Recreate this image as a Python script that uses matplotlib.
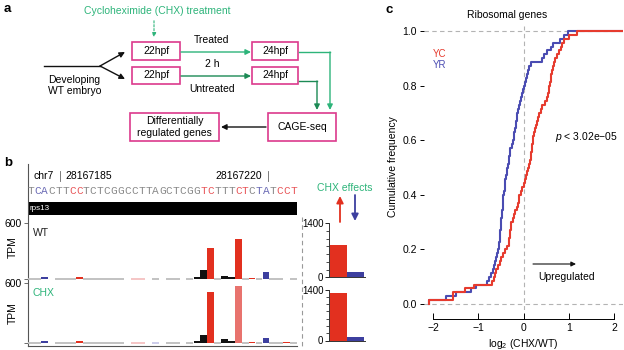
import matplotlib
matplotlib.use("Agg")
import matplotlib.pyplot as plt
from matplotlib.patches import Rectangle
from matplotlib.ticker import MultipleLocator

plt.rcParams['font.family'] = ['Liberation Sans', 'DejaVu Sans']
plt.rcParams['mathtext.fontset'] = 'custom'
plt.rcParams['mathtext.rm'] = 'Liberation Sans'
plt.rcParams['mathtext.it'] = 'Liberation Sans:italic'

# ---------------- data ----------------
seq = "TCACTTCCTCTCGGCCTTAGCTCGGTCTTTCTCTATCCT"
seq_cls = "gbbgggrr" + "g" * 17 + "rrgggrrgbbgrrr"

bar_pos = [2, 7, 24, 25, 26, 28, 29, 30, 32, 34, 37]
bar_cls = ['b', 'r', 'k', 'k', 'r', 'k', 'k', 'r', 'r', 'b', 'r']
wt_tpm = [25, 20, 29, 100, 332, 35, 20, 428, 12, 78, 8]
chx_tpm = [18, 15, 20, 78, 515, 34, 18, 570, 10, 50, 8]
chx_clipped = [False, False, False, False, False, False, False, True, False, False, False]

base_pos = [0, 1, 4, 5, 6, 8, 9, 10, 11, 12, 13, 15, 16, 18, 20, 21, 23, 27, 31, 33, 35, 36, 38]
base_cls_wt = ['g'] * 11 + ['p', 'p', 'g'] + ['g'] * 9
base_cls_chx = ['g'] * 11 + ['p', 'p', 'q'] + ['g'] * 9

mini_cats = ['up', 'down']
mini_wt = [837, 130]
mini_chx = [1300, 92]

yc_vals = [-2.1, -1.56, -1.55, -1.3, -1.1, -0.7, -0.65, -0.62, -0.6, -0.56,
           -0.52, -0.5, -0.46, -0.4, -0.36, -0.33, -0.31, -0.30, -0.29, -0.28,
           -0.28, -0.24, -0.2, -0.18, -0.15, -0.13, -0.11, -0.09, -0.06, -0.03,
           0.0, 0.03, 0.05, 0.08, 0.1, 0.12, 0.14, 0.16, 0.17, 0.18,
           0.19, 0.2, 0.22, 0.24, 0.26, 0.28, 0.3, 0.33, 0.35, 0.38,
           0.42, 0.48, 0.52, 0.54, 0.56, 0.57, 0.59, 0.6, 0.61, 0.62,
           0.65, 0.68, 0.7, 0.74, 0.78, 0.82, 0.85, 0.9, 1.0, 1.18]
yr_vals = [-2.1, -1.72, -1.5, -1.15, -1.06, -0.8, -0.76, -0.72, -0.68, -0.66,
           -0.63, -0.6, -0.59, -0.57, -0.55, -0.54, -0.53, -0.52, -0.51, -0.50,
           -0.50, -0.49, -0.48, -0.47, -0.46, -0.46, -0.45, -0.45, -0.43, -0.42,
           -0.41, -0.40, -0.38, -0.37, -0.36, -0.34, -0.33, -0.31, -0.30, -0.29,
           -0.25, -0.23, -0.21, -0.2, -0.19, -0.17, -0.16, -0.15, -0.14, -0.12,
           -0.1, -0.08, -0.06, -0.04, -0.02, 0.0, 0.03, 0.06, 0.08, 0.1,
           0.13, 0.17, 0.4, 0.45, 0.52, 0.6, 0.66, 0.8, 0.9, 0.99]
x_ticks = [-2, -1, 0, 1, 2]
y_ticks = [0.0, 0.2, 0.4, 0.6, 0.8, 1.0]

# ---------------- styling ----------------
W, H = 624, 350
FS = 7.5
RED = '#e2301f'
BLUE = '#3d3f9f'
GREEN = '#2db47a'
DGREEN = '#1c8a55'
MAG = '#dc3a8c'
cmap = {'r': RED, 'b': BLUE, 'k': '#111111'}
seq_cmap = {'g': '#8a8a8a', 'b': '#6b6bb5', 'r': '#e8575a'}
base_cmap = {'g': '#bdbdbd', 'p': '#f4c0c0', 'q': '#c8c8e8'}

fig = plt.figure(figsize=(W / 100, H / 100), dpi=100)


def ax_px(x0, y0, x1, y1, **kw):
    return fig.add_axes([x0 / W, 1 - y1 / H, (x1 - x0) / W, (y1 - y0) / H], **kw)


ov = ax_px(0, 0, W, H)
ov.set_xlim(0, W)
ov.set_ylim(H, 0)
ov.axis('off')

# ---------------- panel a ----------------
ov.text(4, 9, 'a', fontsize=9.5, fontweight='bold', va='center', ha='left')
ov.text(157, 11, 'Cycloheximide (CHX) treatment', color=GREEN, fontsize=FS, ha='center', va='center')
ov.annotate('', xy=(154, 40), xytext=(154, 18),
            arrowprops=dict(arrowstyle='-|>', color=GREEN, lw=0.8, ls=(0, (2, 1.5)), mutation_scale=6))


def box(x0, y0, x1, y1, text, fs=FS):
    ov.add_patch(Rectangle((x0, y0), x1 - x0, y1 - y0, fill=False, ec=MAG, lw=1.2))
    ov.text((x0 + x1) / 2, (y0 + y1) / 2, text, fontsize=fs, ha='center', va='center',
            linespacing=1.15)


box(132, 42, 180, 60, '22hpf')
box(132, 67, 180, 84, '22hpf')
box(252, 42, 298, 60, '24hpf')
box(252, 67, 298, 84, '24hpf')
box(268, 113, 336, 141, 'CAGE-seq')
box(130, 113, 219, 141, 'Differentially\nregulated genes')

ov.text(212, 40, 'Treated', fontsize=FS, ha='center', va='center')
ov.text(212, 64, '2 h', fontsize=FS, ha='center', va='center')
ov.text(212, 89, 'Untreated', fontsize=FS, ha='center', va='center')
ov.text(48, 80, 'Developing', fontsize=FS, ha='left', va='center')
ov.text(48, 91, 'WT embryo', fontsize=FS, ha='left', va='center')

arr_g = dict(arrowstyle='-|>', color=GREEN, lw=1.0, mutation_scale=8, shrinkA=0, shrinkB=0)
arr_dg = dict(arrowstyle='-|>', color=DGREEN, lw=1.0, mutation_scale=8, shrinkA=0, shrinkB=0)
arr_k = dict(arrowstyle='-|>', color='#111111', lw=1.0, mutation_scale=8, shrinkA=0, shrinkB=0)
ov.annotate('', xy=(251, 52), xytext=(181, 52), arrowprops=arr_g)
ov.annotate('', xy=(251, 76), xytext=(181, 76), arrowprops=arr_dg)
ov.plot([44, 100], [66, 66], color='#111111', lw=1.0)
ov.annotate('', xy=(125, 52), xytext=(100, 66), arrowprops=arr_k)
ov.annotate('', xy=(125, 79), xytext=(100, 66), arrowprops=arr_k)
ov.plot([299, 330], [52, 52], color=GREEN, lw=1.0)
ov.annotate('', xy=(330, 110), xytext=(330, 52), arrowprops=arr_g)
ov.plot([299, 317], [81, 81], color=DGREEN, lw=1.0)
ov.annotate('', xy=(317, 110), xytext=(317, 81), arrowprops=arr_dg)
ov.annotate('', xy=(221, 127), xytext=(266, 127), arrowprops=arr_k)

# ---------------- panel b ----------------
ov.text(4, 163, 'b', fontsize=9.5, fontweight='bold', va='center', ha='left')
TX0, TX1 = 27.5, 297
n_nt = len(seq)
step = (TX1 - TX0) / n_nt
ov.text(33, 176, 'chr7', fontsize=FS, ha='left', va='center')
ov.plot([60, 60], [171, 181], color='#666666', lw=0.6)
ov.text(65, 176, '28167185', fontsize=FS, ha='left', va='center')
ov.text(262, 176, '28167220', fontsize=FS, ha='right', va='center')
ov.plot([268, 268], [171, 181], color='#666666', lw=0.6)
for i, (ch, c) in enumerate(zip(seq, seq_cls)):
    ov.text(TX0 + (i + 0.5) * step, 191, ch, fontsize=8, family='Liberation Mono',
            color=seq_cmap[c], ha='center', va='center')
ov.add_patch(Rectangle((TX0, 202), TX1 - TX0, 13, color='black', lw=0))
ov.text(30, 208.5, 'rps13', fontsize=5.8, color='white', ha='left', va='center')
ov.plot([TX0, TX0], [164, 346], color='#555555', lw=0.8)
ov.plot([TX0, TX1], [346, 346], color='#555555', lw=0.8)
ov.plot([302, 302], [217, 346], color='#999999', lw=0.8, ls=(0, (4, 3)))

ov.text(13, 247, 'TPM', fontsize=FS, rotation=90, ha='center', va='center')
ov.text(13, 313, 'TPM', fontsize=FS, rotation=90, ha='center', va='center')


def track(y_top, y_bot, vals, clipped, base_cls, label, lcolor):
    ax = ax_px(TX0, y_top, TX1, y_bot)
    ax.set_xlim(-0.5, n_nt - 0.5)
    ax.set_ylim(0, 600)
    for sp in ax.spines.values():
        sp.set_visible(False)
    ax.set_xticks([])
    ax.set_yticks([0, 600])
    ax.set_yticklabels(['', '600'], fontsize=FS)
    ax.tick_params(axis='y', length=3, width=0.6, pad=1.5, color='#555555')
    for p, c in zip(base_pos, base_cls):
        ax.hlines(0, p - 0.5, p + 0.5, color=base_cmap[c], lw=1.3, clip_on=False)
    cols = []
    for c, cl in zip(bar_cls, clipped):
        cols.append('#e8736e' if cl else cmap[c])
    ax.bar(bar_pos, vals, width=0.95, color=cols, lw=0, clip_on=False)
    ax.patch.set_alpha(0)
    ax.text(0.02, 0.83, label, transform=ax.transAxes, fontsize=FS, color=lcolor,
            ha='left', va='center')
    return ax


track(223.3, 279.3, wt_tpm, [False] * len(bar_pos), base_cls_wt, 'WT', '#222222')
track(283.3, 342.7, chx_tpm, chx_clipped, base_cls_chx, 'CHX', GREEN)

ov.text(345, 188, 'CHX effects', color=GREEN, fontsize=FS, ha='center', va='center')
ov.annotate('', xy=(340, 196), xytext=(340, 222),
            arrowprops=dict(arrowstyle='-|>', color=RED, lw=1.3, mutation_scale=10, shrinkA=0, shrinkB=0))
ov.annotate('', xy=(355, 221), xytext=(355, 195),
            arrowprops=dict(arrowstyle='-|>', color=BLUE, lw=1.3, mutation_scale=10, shrinkA=0, shrinkB=0))


def mini(y_top, y_bot, vals):
    ax = ax_px(329, y_top, 365, y_bot)
    ax.bar([0, 1], vals, width=1.0, color=[RED, BLUE], lw=0)
    ax.set_xlim(-0.56, 1.56)
    ax.set_ylim(0, 1400)
    ax.spines['top'].set_visible(False)
    ax.spines['right'].set_visible(False)
    for s in ('left', 'bottom'):
        ax.spines[s].set_linewidth(0.7)
        ax.spines[s].set_color('#333333')
    ax.set_xticks([])
    ax.set_yticks([0, 1400])
    ax.set_yticklabels(['0', '1400'], fontsize=7)
    ax.yaxis.set_minor_locator(MultipleLocator(200))
    ax.tick_params(axis='y', which='major', length=3, width=0.6, pad=1)
    ax.tick_params(axis='y', which='minor', length=2, width=0.5)
    return ax


mini(223.3, 277.3, mini_wt)
mini(289.5, 340.5, mini_chx)

# ---------------- panel c ----------------
ov.text(386, 10, 'c', fontsize=9.5, fontweight='bold', va='center', ha='left')
ov.text(507, 15, 'Ribosomal genes', fontsize=FS, ha='center', va='center')

axc = ax_px(424, 25.5, 623, 309.5)
axc.set_xlim(-2.2, 2.2)
axc.set_ylim(-0.02, 1.02)
for yv in (0, 1):
    axc.axhline(yv, color='#b3b3b3', lw=0.8, ls=(0, (4, 3)), zorder=1)
axc.axvline(0, color='#b3b3b3', lw=0.8, ls=(0, (4, 3)), zorder=1)


def ecdf(vals, color):
    n = len(vals)
    xs = [vals[0]] + list(vals) + [2.2]
    ys = [0.0] + [(k + 1) / n for k in range(n)] + [1.0]
    axc.step(xs, ys, where='post', color=color, lw=1.5, zorder=3)


ecdf(yr_vals, '#4a4cb2')
ecdf(yc_vals, '#e63b2e')

for s in ('top', 'right', 'left'):
    axc.spines[s].set_visible(False)
axc.spines['bottom'].set_position(('outward', 7))
axc.spines['bottom'].set_bounds(-2, 2)
axc.spines['bottom'].set_linewidth(0.7)
axc.set_xticks(x_ticks)
axc.set_xticklabels(['\u22122', '\u22121', '0', '1', '2'], fontsize=FS)
axc.set_yticks(y_ticks)
axc.set_yticklabels([f'{v:.1f}' for v in y_ticks], fontsize=FS)
axc.tick_params(axis='x', direction='in', length=4, width=0.7, pad=3)
axc.tick_params(axis='y', direction='out', length=3, width=0.7, pad=2)
axc.patch.set_alpha(0)

axc.text(-2.0, 0.915, 'YC', color='#e63b2e', fontsize=7, ha='left', va='center')
axc.text(-2.0, 0.875, 'YR', color='#4a4cb2', fontsize=7, ha='left', va='center')
ov.text(586, 137, '$p$ < 3.02e\u221205', fontsize=FS, ha='center', va='center')
ov.annotate('', xy=(576, 264), xytext=(533, 264),
            arrowprops=dict(arrowstyle='-|>', color='#111111', lw=0.8, mutation_scale=7, shrinkA=0, shrinkB=0))
ov.text(567, 277, 'Upregulated', fontsize=FS, ha='center', va='center')
ov.text(393, 167, 'Cumulative frequency', fontsize=FS, rotation=90, ha='center', va='center')
ov.text(523, 344, r'log$_2$ (CHX/WT)', fontsize=FS, ha='center', va='center')

fig.savefig('out.png', dpi=100)
